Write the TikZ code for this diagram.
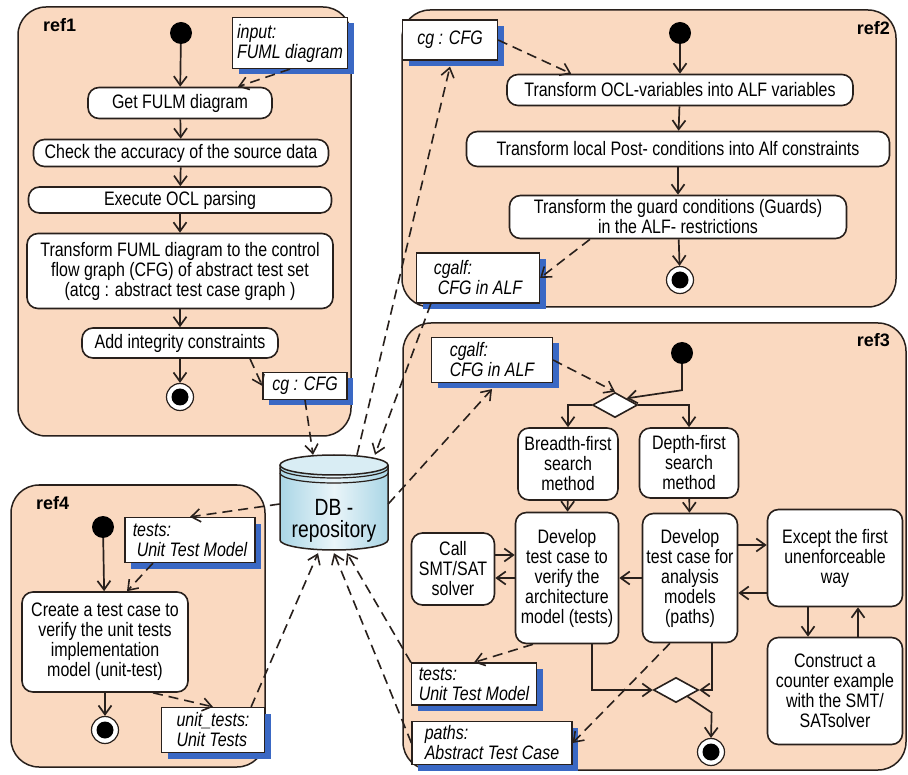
\documentclass[tikz,border=0pt]{standalone}
\usepackage{fontspec}
\setmainfont{Liberation Sans}
\newfontfamily\narrowsf{Liberation Sans}[FakeStretch=0.82]
\usepackage{tikz}
\usetikzlibrary{arrows.meta,calc,shapes.geometric,shadows}
\definecolor{panelfill}{RGB}{250,217,192}
\definecolor{objblue}{RGB}{58,104,196}
\definecolor{dbblue}{RGB}{170,214,230}
\definecolor{linecol}{RGB}{40,32,28}
\tikzset{>={Straight Barb[length=9pt,width=13pt]}}
\tikzset{
  panel/.style={draw=linecol, line width=1.5pt, fill=panelfill, rounded corners=28pt},
  txt/.style={font=\narrowsf\fontsize{19.5}{20}\selectfont},
  act/.style={txt, draw=linecol, line width=1.6pt, fill=white, rounded corners=11pt, align=center, inner sep=2pt},
  obj/.style={draw=linecol, line width=1.2pt, fill=white, align=left, inner sep=2pt,
    font=\narrowsf\itshape\fontsize{19.5}{20}\selectfont,
    drop shadow={shadow xshift=6pt, shadow yshift=-6pt, fill=objblue, opacity=1}},
  title/.style={font=\bfseries\fontsize{18}{20}\selectfont, inner sep=0pt},
  start/.style={circle, fill=black, minimum size=22pt, inner sep=0pt},
  stop/.style={circle, draw=linecol, line width=1.2pt, fill=white, minimum size=27pt, inner sep=0pt,
    path picture={\fill[black] (path picture bounding box.center) circle (8.5pt);}},
  choice/.style={diamond, draw=linecol, line width=1.6pt, fill=white, aspect=1.8, minimum width=45pt, minimum height=25pt, inner sep=0pt},
  flow/.style={->, draw=linecol, line width=1.7pt},
  dep/.style={->, draw=linecol, line width=1.6pt, dash pattern=on 10pt off 6pt}
}

\begin{document}
\begin{tikzpicture}[x=1pt,y=-1pt]
\fill[white] (0,0) rectangle (908,775);
\useasboundingbox (0,0) rectangle (908,775);

\draw[panel] (18,7) rectangle (351,436);
\draw[panel] (402,10) rectangle (896,307);
\draw[panel] (403,323) rectangle (906,770);
\draw[panel] (11,485) rectangle (265,767);

% database
\fill[left color=dbblue, right color=dbblue, middle color=dbblue!25] (280,465) -- (280,540) arc[start angle=180, end angle=0, x radius=54, y radius=10] -- (388,465) -- cycle;
\draw[linecol, line width=1.5pt] (280,465) -- (280,540) arc[start angle=180, end angle=0, x radius=54, y radius=10] -- (388,465);
\draw[linecol, line width=1.5pt, fill=dbblue!45] (334,465) ellipse[x radius=54, y radius=10];
\draw[linecol, line width=1.2pt] (280,468) arc[start angle=180, end angle=0, x radius=54, y radius=10];
\draw[linecol, line width=1.2pt] (280,473) arc[start angle=180, end angle=0, x radius=54, y radius=10];
\node[minimum width=108pt, minimum height=98pt, inner sep=0pt] (db) at (334,504) {};
\node[font=\narrowsf\fontsize{23.5}{22}\selectfont, align=center] (dbtxt) at (334,521) {DB -\\repository};

% ref1
\node[title, anchor=west] (ttl1) at (43,25) {ref1};
\node[start] (ini1) at (181,33) {};
\node[obj, minimum width=115pt, minimum height=51pt] (in1) at (290,43) {input:\\FUML diagram};
\node[act, minimum width=184pt, minimum height=31pt] (get) at (180,103) {Get FULM diagram};
\node[act, minimum width=295pt, minimum height=27pt] (chk) at (181,153) {Check the accuracy of the source data};
\node[act, minimum width=303pt, minimum height=26pt] (exe) at (180,200) {Execute OCL parsing};
\node[act, minimum width=306pt, minimum height=75pt] (tfm) at (180,271) {Transform FUML diagram to the control\\flow graph (CFG) of abstract test set\\(atcg : abstract test case graph )};
\node[act, minimum width=196pt, minimum height=30pt] (add) at (180,343) {Add integrity constraints};
\node[stop] (fin1) at (180,397) {};
\node[obj, align=center, minimum width=84pt, minimum height=27pt] (cg1) at (305,386) {cg : CFG};

% ref2
\node[title, anchor=east] (ttl2) at (890,28) {ref2};
\node[obj, align=center, minimum width=95pt, minimum height=40pt] (cg2) at (450,40) {cg : CFG};
\node[start] (ini2) at (680,33) {};
\node[act, minimum width=346pt, minimum height=31pt] (t1) at (680,90) {Transform OCL-variables into ALF variables};
\node[act, minimum width=423pt, minimum height=35pt] (t2) at (678,149) {Transform local Post- conditions into Alf constraints};
\node[act, minimum width=337pt, minimum height=43pt] (t3) at (678,217) {Transform the guard conditions (Guards)\\in the ALF- restrictions};
\node[stop] (fin2) at (680,280) {};
\node[obj, minimum width=123pt, minimum height=50pt] (alf2) at (478,278) {cgalf:\\\hspace*{4pt}CFG in ALF};

% ref3
\node[title, anchor=east] (ttl3) at (890,340) {ref3};
\node[obj, minimum width=121pt, minimum height=45pt] (alf3) at (492,360) {cgalf:\\CFG in ALF};
\node[start] (ini3) at (682,353) {};
\node[choice] (dec) at (615,405) {};
\node[act, minimum width=100pt, minimum height=72pt] (bfs) at (568,464) {Breadth-first\\search\\method};
\node[act, minimum width=99pt, minimum height=70pt] (dfs) at (689,463) {Depth-first\\search\\method};
\node[act, minimum width=103pt, minimum height=131pt] (dv1) at (567,578) {Develop\\test case to\\verify the\\architecture\\model (tests)};
\node[act, minimum width=95pt, minimum height=129pt] (dv2) at (690,578) {Develop\\test case for\\analysis\\models\\(paths)};
\node[act, minimum width=83pt, minimum height=72pt] (call) at (453,569) {Call\\SMT/SAT\\solver};
\node[act, minimum width=135pt, minimum height=97pt] (exc) at (835,558) {Except the first\\unenforceable\\way};
\node[act, minimum width=135pt, minimum height=107pt] (con) at (835,691) {Construct a\\counter example\\with the SMT/\\SATsolver};
\node[choice] (mrg) at (676,690) {};
\node[stop] (fin3) at (711,752) {};
\node[obj, minimum width=125pt, minimum height=42pt] (tst3) at (474,684) {tests:\\Unit Test Model};
\node[obj, minimum width=160pt, minimum height=43pt] (pth3) at (492,743) {paths:\\Abstract Test Case};

% ref4
\node[title, anchor=west] (ttl4) at (36,503) {ref4};
\node[start] (ini4) at (103,527) {};
\node[obj, minimum width=130pt, minimum height=45pt] (tst4) at (190,540) {tests:\\\hspace*{4pt}Unit Test Model};
\node[act, minimum width=166pt, minimum height=100pt] (cre) at (105,642) {Create a test case to\\verify the unit tests\\implementation\\model (unit-test)};
\node[stop] (fin4) at (105,730) {};
\node[obj, minimum width=103pt, minimum height=45pt] (ut4) at (213,730) {unit\_tests:\\Unit Tests};

% control flow
\draw[flow] (ini1) -- (get);
\draw[flow] (get) -- (chk);
\draw[flow] (chk) -- (exe);
\draw[flow] (exe) -- (tfm);
\draw[flow] (tfm) -- (add);
\draw[flow] (add) -- (fin1);

\draw[flow] (ini2) -- (t1);
\draw[flow] (t1) -- (t2);
\draw[flow] (t2) -- (t3);
\draw[flow] (t3) -- (fin2);

\draw[flow] (ini3.south) -- ++(0,26) -- (dec.north east);
\draw[flow] (dec.west) -| (bfs.north);
\draw[flow] (dec.east) -| (dfs.north);
\draw[flow] (bfs) -- (dv1);
\draw[flow] (dfs) -- (dv2);
\draw[flow] ($(call.east)+(0,-14)$) -- ($(dv1.west)+(0,-23)$);
\draw[flow] (dv1.west) -- ($(call.east)+(0,9)$);
\draw[flow] (dv2.west) -- (dv1.east);
\draw[flow] ($(dv2.east)+(0,-33)$) -- ($(exc.west)+(0,-13)$);
\draw[flow] ($(exc.west)+(0,35)$) -- ($(dv2.east)+(0,15)$);
\draw[flow] ($(exc.south)+(-27,0)$) -- ($(con.north)+(-27,0)$);
\draw[flow] ($(con.north)+(23,0)$) -- ($(exc.south)+(23,0)$);
\draw[flow] ($(dv1.south)+(25,0)$) |- (mrg.west);
\draw[flow] ($(dv2.south)+(22,0)$) |- (mrg.east);
\draw[flow] (mrg.south east) -- ++(24,16) -- (fin3.north);

\draw[flow] (ini4) -- (cre);
\draw[flow] (cre) -- (fin4);

% object flow
\draw[dep] (in1.south) -- ($(get.north)+(58,0)$);
\draw[dep] ($(add.south)+(70,0)$) -- (cg1.west);
\draw[dep] (cg1.south) -- ($(db.north)+(-21,0)$);
\draw[dep] ($(db.north)+(23,0)$) -- ($(cg2.south)+(0,6)$);
\draw[dep] (cg2.east) -- ($(t1.north west)+(65,0)$);
\draw[dep] ($(t3.south)+(-88,0)$) -- (alf2.east);
\draw[dep] ($(alf2.south west)+(15,0)$) -- ($(db.north)+(41,0)$);
\draw[dep] (db.east) -- ($(alf3.south)+(0,6)$);
\draw[dep] (alf3.east) -- (dec.north);
\draw[dep] ($(dv1.south)+(-34,0)$) -- (tst3.north);
\draw[dep] ($(dv2.south)+(-20,0)$) -- (pth3.east);
\draw[dep] (tst3.north west) -- ($(db.south)+(13,0)$);
\draw[dep] (pth3.west) -- (db.south);
\draw[dep] (db.west) -- (tst4.north);
\draw[dep] ($(tst4.south)+(-37,0)$) -- ($(cre.north)+(22,0)$);
\draw[dep] ($(cre.south)+(48,0)$) -- (ut4.north);
\draw[dep] ($(ut4.north east)+(-14,0)$) -- ($(db.south)+(-16,0)$);
\end{tikzpicture}
\end{document}
